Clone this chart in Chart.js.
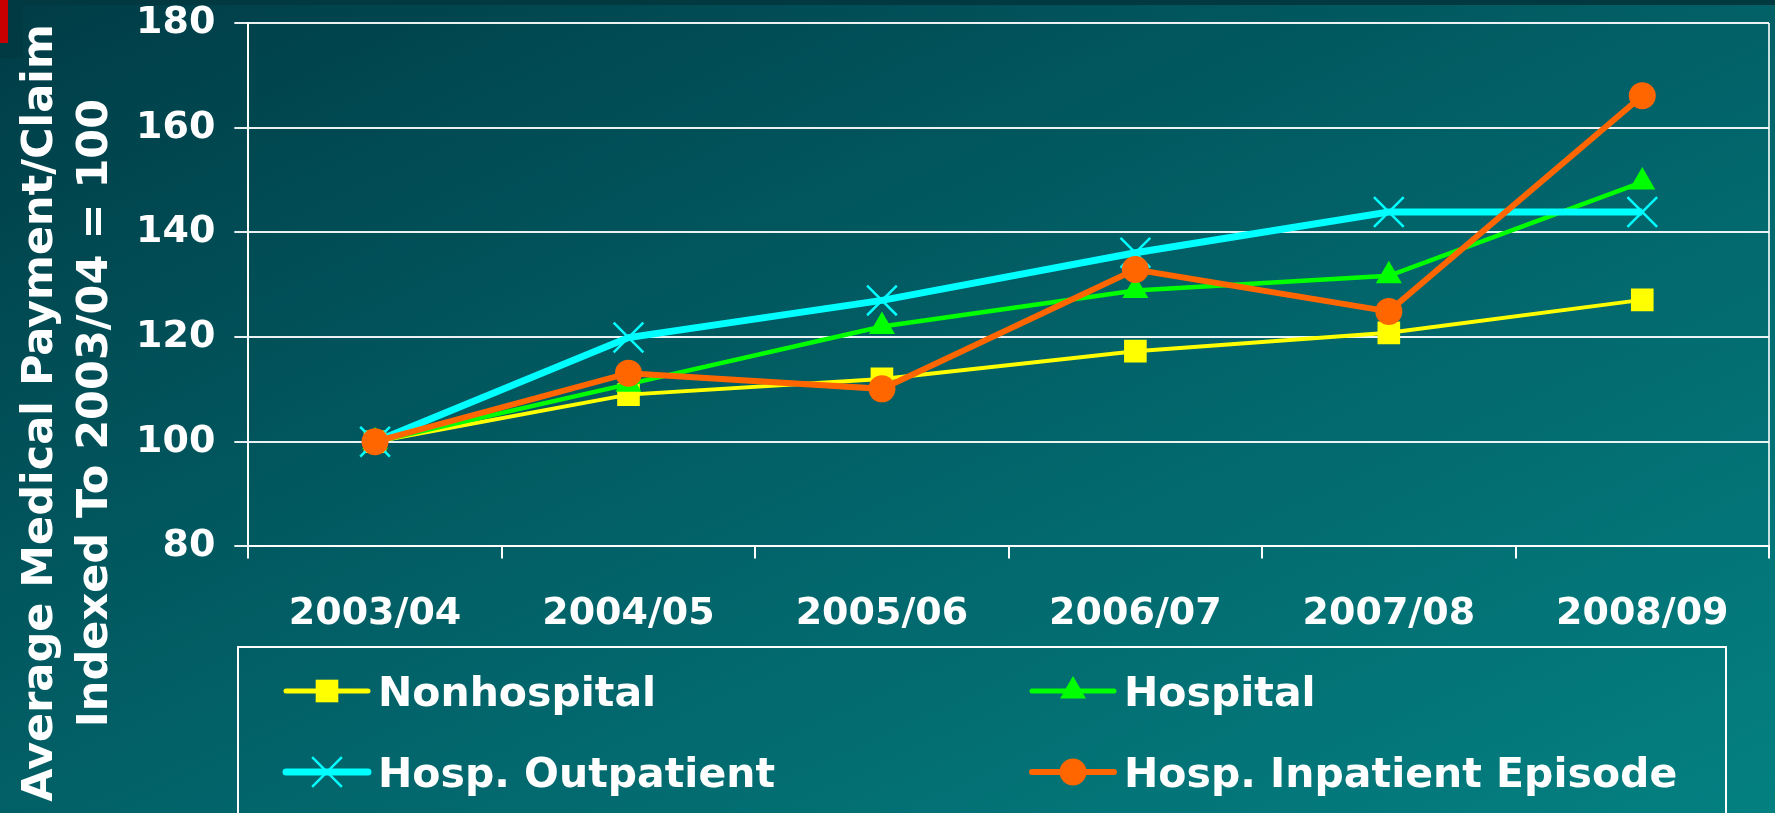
<!DOCTYPE html>
<html>
<head>
<meta charset="utf-8">
<title>Average Medical Payment/Claim</title>
<script src="https://cdn.jsdelivr.net/npm/chart.js@4.4.0/dist/chart.umd.min.js"></script>
<style>
  html, body { margin: 0; padding: 0; }
  body {
    width: 1775px; height: 813px; overflow: hidden; position: relative;
    background: linear-gradient(to bottom right, #003c46 0%, #02646a 55%, #048081 100%);
  }
  #topband { position: absolute; left: 0; top: 0; width: 1775px; height: 5px; background: #023940; }
  #corner { position: absolute; left: 0; top: 0; width: 23px; height: 58px; background: #013a43; }
  #redmark { position: absolute; left: 0; top: 0; width: 8px; height: 43px; background: #c80000; }
  #myChart { position: absolute; left: 0; top: 0; }
</style>
</head>
<body>
<div id="topband"></div>
<div id="corner"></div>
<div id="redmark"></div>
<canvas id="myChart" width="1775" height="813"></canvas>
<script>
const categories = ['2003/04', '2004/05', '2005/06', '2006/07', '2007/08', '2008/09'];
const nonhospital = [100, 109, 112, 117.3, 120.8, 127.1];
const hospital = [100, 111, 122, 128.9, 131.7, 149.6];
const outpatient = [100, 119.9, 127, 136.1, 143.9, 143.9];
const inpatient = [100, 113.1, 110.1, 132.9, 124.9, 166.1];
const yTicks = [80, 100, 120, 140, 160, 180];
const yTitle = ['Average Medical Payment/Claim', 'Indexed To 2003/04 = 100'];

const fontFamily = '"DejaVu Sans", Verdana, sans-serif';
const ctx = document.getElementById('myChart');

// marcadores de la leyenda, dibujados igual que los puntos
function drawMarker(c, ds, x, y) {
  c.save();
  c.fillStyle = ds.pointBackgroundColor;
  c.strokeStyle = ds.pointBorderColor;
  c.lineWidth = ds.pointBorderWidth;
  const opts = { pointStyle: ds.pointStyle, radius: ds.pointRadius, rotation: 0, borderWidth: ds.pointBorderWidth };
  Chart.helpers.drawPoint(c, opts, x, y);
  c.restore();
}

const extras = {
  id: 'extras',
  afterDraw(chart) {
    const c = chart.ctx;
    // titulo del eje y (dos lineas)
    c.save();
    c.fillStyle = '#ffffff';
    c.font = 'bold 43px ' + fontFamily;
    c.textAlign = 'center';
    c.textBaseline = 'alphabetic';
    const baseX = [52, 107];
    yTitle.forEach((t, i) => {
      c.save();
      c.translate(baseX[i], 413);
      c.rotate(-Math.PI / 2);
      c.fillText(t, 0, 0);
      c.restore();
    });
    c.restore();

    // leyenda
    c.save();
    c.strokeStyle = '#ffffff';
    c.lineWidth = 2;
    c.strokeRect(238, 647, 1488, 200);
    const cols = [286, 1032];
    const rows = [691, 772];
    const lineLen = 82;
    chart.data.datasets.forEach((ds, i) => {
      const x0 = cols[i % 2];
      const y = rows[Math.floor(i / 2)];
      c.save();
      c.strokeStyle = ds.borderColor;
      c.lineWidth = ds.legendLineWidth;
      c.lineCap = 'round';
      c.beginPath();
      c.moveTo(x0, y);
      c.lineTo(x0 + lineLen, y);
      c.stroke();
      c.restore();
      drawMarker(c, ds, x0 + lineLen / 2, y);
      c.fillStyle = '#ffffff';
      c.font = 'bold 41px ' + fontFamily;
      c.textAlign = 'left';
      c.textBaseline = 'alphabetic';
      c.fillText(ds.label, x0 + lineLen + 10, y + 15);
    });
    c.restore();
  }
};

const myChart = new Chart(ctx, {
  type: 'line',
  data: {
    labels: categories,
    datasets: [{
      label: 'Nonhospital',
      data: nonhospital,
      borderColor: '#ffff00',
      backgroundColor: '#ffff00',
      borderWidth: 4,
      legendLineWidth: 5,
      pointStyle: 'rect',
      pointRadius: 16,
      pointBackgroundColor: '#ffff00',
      pointBorderColor: '#ffff00',
      pointBorderWidth: 0,
      order: 4
    }, {
      label: 'Hospital',
      data: hospital,
      borderColor: '#00ff00',
      backgroundColor: '#00ff00',
      borderWidth: 4.5,
      legendLineWidth: 5,
      pointStyle: 'triangle',
      pointRadius: 15,
      pointBackgroundColor: '#00ff00',
      pointBorderColor: '#00ff00',
      pointBorderWidth: 0,
      order: 3
    }, {
      label: 'Hosp. Outpatient',
      data: outpatient,
      borderColor: '#00ffff',
      backgroundColor: '#00ffff',
      borderWidth: 7,
      legendLineWidth: 7,
      pointStyle: 'crossRot',
      pointRadius: 21,
      pointBackgroundColor: '#00ffff',
      pointBorderColor: '#00ffff',
      pointBorderWidth: 2.5,
      order: 2
    }, {
      label: 'Hosp. Inpatient Episode',
      data: inpatient,
      borderColor: '#ff6600',
      backgroundColor: '#ff6600',
      borderWidth: 6,
      legendLineWidth: 6,
      pointStyle: 'circle',
      pointRadius: 13.5,
      pointBackgroundColor: '#ff6600',
      pointBorderColor: '#ff6600',
      pointBorderWidth: 0,
      order: 1
    }]
  },
  options: {
    responsive: false,
    animation: false,
    layout: {
      autoPadding: false,
      padding: { left: 117, right: 6, top: 23, bottom: 143 }
    },
    scales: {
      x: {
        offset: true,
        afterFit: (scale) => { scale.paddingLeft = 0; scale.paddingRight = 0; },
        grid: {
          offset: true,
          drawOnChartArea: true,
          color: (c) => c.type === 'tick' ? 'rgba(0,0,0,0)' : 'rgba(235,245,245,0.85)',
          tickColor: '#ffffff',
          lineWidth: 2,
          tickLength: 12
        },
        border: { color: '#ffffff', width: 2 },
        ticks: {
          color: '#ffffff',
          font: { family: fontFamily, size: 38, weight: 'bold' },
          padding: 33,
          maxRotation: 0,
          autoSkip: false
        }
      },
      y: {
        min: 80,
        max: 180,
        afterBuildTicks: (scale) => { scale.ticks = yTicks.map(v => ({ value: v })); },
        afterFit: (scale) => { scale.paddingTop = 0; scale.paddingBottom = 0; },
        grid: {
          color: 'rgba(255,255,255,0.92)',
          lineWidth: 2,
          tickLength: 14
        },
        border: { color: '#ffffff', width: 2 },
        ticks: {
          color: '#ffffff',
          font: { family: fontFamily, size: 38, weight: 'bold' },
          padding: 19
        }
      }
    },
    plugins: {
      legend: { display: false },
      tooltip: { enabled: false }
    },
    elements: {
      line: { tension: 0 }
    }
  },
  plugins: [extras]
});
</script>
</body>
</html>
